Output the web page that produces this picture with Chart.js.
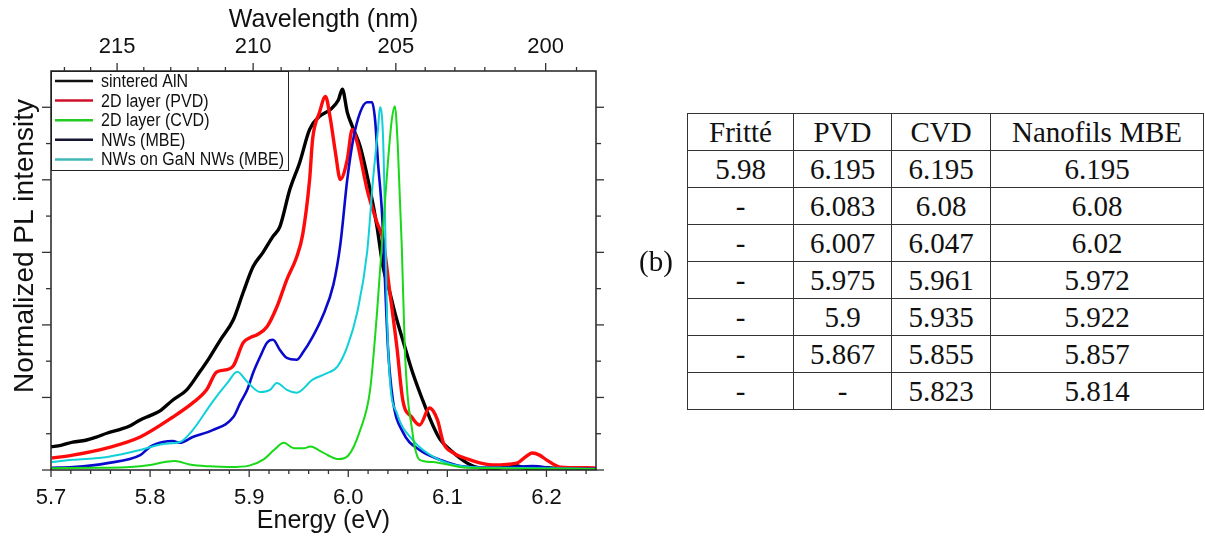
<!DOCTYPE html>
<html><head><meta charset="utf-8">
<script src="https://cdn.jsdelivr.net/npm/chart.js@4"></script>
<style>
html,body{margin:0;padding:0;background:#fff;width:1205px;height:537px;overflow:hidden;}
#wrap{position:absolute;left:0;top:0;width:640px;height:537px;}
#tbl{position:absolute;left:687px;top:113px;border-collapse:collapse;table-layout:fixed;width:516px;font-family:"Liberation Serif",serif;font-size:29px;color:#111;}
#tbl td{border:1px solid #333;text-align:center;height:36px;padding:0;line-height:36px;white-space:nowrap;}
#blabel{position:absolute;left:639px;top:245px;font-family:"Liberation Serif",serif;font-size:29px;color:#111;}
</style></head>
<body>
<div id="wrap"><canvas id="c" width="640" height="537"></canvas></div>
<div id="blabel">(b)</div>
<table id="tbl"><colgroup><col style="width:106px"><col style="width:98px"><col style="width:99px"><col style="width:213px"></colgroup><tbody id="tb"></tbody></table>
<script>
// ---- chart data (energy in eV, normalized PL intensity) ----
const sinteredE = [5.700,5.710,5.722,5.735,5.745,5.757,5.770,5.780,5.790,5.800,5.810,5.823,5.837,5.850,5.860,5.871,5.884,5.894,5.904,5.914,5.924,5.931,5.941,5.951,5.961,5.971,5.982,5.990,5.994,5.999,6.004,6.012,6.022,6.029,6.035,6.042,6.047,6.057,6.065,6.075,6.086,6.093,6.103,6.120,6.133,6.150,6.170,6.180,6.200,6.220,6.250];
const sinteredI = [0.064,0.068,0.077,0.082,0.090,0.102,0.112,0.122,0.138,0.150,0.163,0.193,0.221,0.270,0.310,0.359,0.414,0.490,0.561,0.600,0.644,0.671,0.773,0.848,0.939,0.975,0.994,1.020,1.050,0.986,0.948,0.892,0.773,0.671,0.561,0.489,0.434,0.340,0.268,0.193,0.119,0.083,0.055,0.019,0.006,0.005,0.012,0.004,0.006,0.003,0.003];

const pvdE = [5.701,5.722,5.757,5.790,5.823,5.843,5.857,5.867,5.876,5.884,5.894,5.901,5.908,5.918,5.928,5.938,5.948,5.954,5.961,5.964,5.971,5.977,5.982,5.987,5.992,5.999,6.004,6.009,6.019,6.029,6.035,6.042,6.049,6.055,6.064,6.072,6.082,6.090,6.096,6.106,6.123,6.146,6.170,6.186,6.193,6.200,6.214,6.241,6.250];
const pvdI = [0.033,0.041,0.061,0.091,0.146,0.185,0.221,0.270,0.276,0.287,0.351,0.365,0.373,0.395,0.450,0.525,0.588,0.649,0.801,0.912,0.986,1.030,0.967,0.876,0.801,0.856,0.939,0.903,0.773,0.682,0.635,0.489,0.340,0.193,0.146,0.124,0.171,0.138,0.075,0.047,0.028,0.014,0.019,0.047,0.041,0.028,0.008,0.006,0.005];

const cvdE = [5.700,5.750,5.780,5.800,5.815,5.825,5.840,5.860,5.880,5.900,5.915,5.925,5.935,5.945,5.955,5.962,5.970,5.980,5.990,6.000,6.012,6.022,6.029,6.035,6.040,6.044,6.047,6.050,6.054,6.057,6.060,6.064,6.067,6.072,6.085,6.120,6.250];
const cvdI = [0.005,0.006,0.008,0.014,0.022,0.025,0.015,0.010,0.008,0.012,0.030,0.055,0.075,0.060,0.060,0.065,0.055,0.040,0.030,0.040,0.110,0.220,0.434,0.663,0.848,0.967,1.003,0.892,0.616,0.340,0.200,0.119,0.064,0.028,0.022,0.006,0.003];

const mbeE = [5.701,5.722,5.757,5.790,5.800,5.813,5.823,5.830,5.843,5.863,5.884,5.891,5.898,5.904,5.911,5.918,5.924,5.931,5.938,5.948,5.954,5.964,5.974,5.985,5.992,5.999,6.005,6.012,6.019,6.024,6.027,6.030,6.034,6.037,6.040,6.045,6.055,6.072,6.093,6.113,6.153,6.186,6.214,6.250];
const mbeI = [0.006,0.008,0.019,0.041,0.064,0.077,0.080,0.075,0.091,0.110,0.146,0.185,0.221,0.268,0.312,0.351,0.359,0.331,0.309,0.304,0.323,0.367,0.423,0.511,0.622,0.801,0.912,0.986,1.014,1.014,0.967,0.848,0.710,0.525,0.340,0.193,0.105,0.055,0.028,0.011,0.006,0.011,0.003,0.003];

const ganE = [5.701,5.722,5.757,5.790,5.813,5.830,5.843,5.863,5.878,5.888,5.898,5.911,5.921,5.928,5.938,5.948,5.964,5.977,5.989,5.999,6.009,6.019,6.025,6.030,6.032,6.035,6.037,6.039,6.042,6.049,6.065,6.086,6.113,6.153,6.250];
const ganI = [0.022,0.028,0.036,0.055,0.072,0.077,0.110,0.188,0.240,0.271,0.243,0.215,0.221,0.240,0.221,0.213,0.249,0.265,0.285,0.340,0.434,0.600,0.801,0.939,1.000,0.925,0.710,0.434,0.249,0.157,0.083,0.036,0.011,0.006,0.003];

const seriesLabels = ['sintered AlN','2D layer (PVD)','2D layer (CVD)','NWs (MBE)','NWs on GaN NWs (MBE)'];

// ---- axis ticks ----
const energyTicks = [5.7,5.8,5.9,6.0,6.1,6.2];
const energyMinorTicks = [5.72,5.74,5.76,5.78,5.82,5.84,5.86,5.88,5.92,5.94,5.96,5.98,6.02,6.04,6.06,6.08,6.12,6.14,6.16,6.18,6.22,6.24];
const wavelengthTicks = [215,210,205,200];
const wavelengthMinorTicks = [217,216,214,213,212,211,209,208,207,206,204,203,202,201,199];
const intensityTicks = [0,0.2,0.4,0.6,0.8,1.0];
const intensityMinorTicks = [0.1,0.3,0.5,0.7,0.9];
const HC = 1239.84;

// ---- table data ----
const tableHeaders = ['Fritté','PVD','CVD','Nanofils MBE'];
const colFritte = ['5.98','-','-','-','-','-','-'];
const colPVD = ['6.195','6.083','6.007','5.975','5.9','5.867','-'];
const colCVD = ['6.195','6.08','6.047','5.961','5.935','5.855','5.823'];
const colMBE = ['6.195','6.08','6.02','5.972','5.922','5.857','5.814'];

(function buildTable(){
  const tb = document.getElementById('tb');
  const mk = (cells) => { const tr = document.createElement('tr'); cells.forEach(c => { const td = document.createElement('td'); td.textContent = c; tr.appendChild(td); }); tb.appendChild(tr); };
  mk(tableHeaders);
  for (let i = 0; i < colFritte.length; i++) mk([colFritte[i], colPVD[i], colCVD[i], colMBE[i]]);
})();

const pts = (E, I) => E.map((e, i) => ({x: e, y: I[i]}));
const FONT = '"Liberation Sans", Arial, sans-serif';

const framePlugin = {
  id: 'frameTicks',
  afterDraw(chart) {
    const ctx = chart.ctx, a = chart.chartArea;
    const xs = chart.scales.x, ys = chart.scales.y;
    ctx.save();
    // legend box
    const lx = a.left, ly = a.top, lw = 237, lh = 99;
    ctx.fillStyle = '#fff';
    ctx.fillRect(lx, ly, lw, lh);
    ctx.strokeStyle = '#222'; ctx.lineWidth = 1;
    ctx.strokeRect(lx + 0.5, ly + 0.5, lw, lh);
    const legendColors = ['#111111','#d0102a','#22cc22','#151530','#40b8b8'];
    ctx.textBaseline = 'middle'; ctx.textAlign = 'left';
    seriesLabels.forEach((t, i) => {
      const yy = ly + 10 + i * 19.6;
      ctx.strokeStyle = legendColors[i]; ctx.lineWidth = 2.5;
      ctx.beginPath(); ctx.moveTo(lx + 4, yy); ctx.lineTo(lx + 42, yy); ctx.stroke();
      ctx.save();
      ctx.translate(lx + 50, yy + 1); ctx.scale(1, 1.15);
      ctx.font = '16px ' + FONT; ctx.fillStyle = '#111'; ctx.fillText(t, 0, 0);
      ctx.restore();
    });
    // frame
    ctx.strokeStyle = '#222'; ctx.lineWidth = 1.5;
    ctx.strokeRect(a.left, a.top, a.right - a.left, a.bottom - a.top);
    ctx.lineWidth = 1.3; ctx.strokeStyle = '#333';
    const vt = (px, y0, len) => { ctx.beginPath(); ctx.moveTo(px, y0); ctx.lineTo(px, y0 + len); ctx.stroke(); };
    const ht = (py, x0, len) => { ctx.beginPath(); ctx.moveTo(x0, py); ctx.lineTo(x0 + len, py); ctx.stroke(); };
    energyTicks.forEach(v => vt(xs.getPixelForValue(v), a.bottom, 7));
    energyMinorTicks.forEach(v => vt(xs.getPixelForValue(v), a.bottom, 4));
    wavelengthTicks.forEach(w => vt(xs.getPixelForValue(HC / w), a.top, -8));
    wavelengthMinorTicks.forEach(w => vt(xs.getPixelForValue(HC / w), a.top, -4));
    intensityTicks.forEach(v => { const p = ys.getPixelForValue(v); ht(p, a.left, -9); ht(p, a.right, 8); });
    intensityMinorTicks.forEach(v => { const p = ys.getPixelForValue(v); ht(p, a.left, -5); ht(p, a.right, 5); });
    // y title
    ctx.fillStyle = '#111'; ctx.font = '28px ' + FONT; ctx.textAlign = 'center'; ctx.textBaseline = 'middle';
    ctx.translate(25, 246); ctx.rotate(-Math.PI / 2); ctx.fillText('Normalized PL intensity', 0, 0);
    ctx.restore();
  }
};

new Chart(document.getElementById('c'), {
  type: 'scatter',
  data: {
    datasets: [
      {label: seriesLabels[0], data: pts(sinteredE, sinteredI), borderColor: '#000000', borderWidth: 3.4, order: 5},
      {label: seriesLabels[1], data: pts(pvdE, pvdI), borderColor: '#ff0a0a', borderWidth: 3.4, order: 4},
      {label: seriesLabels[2], data: pts(cvdE, cvdI), borderColor: '#18d818', borderWidth: 2, order: 1},
      {label: seriesLabels[3], data: pts(mbeE, mbeI), borderColor: '#0a0acc', borderWidth: 2.6, order: 3},
      {label: seriesLabels[4], data: pts(ganE, ganI), borderColor: '#10d0d8', borderWidth: 2, order: 2}
    ].map(d => Object.assign(d, {showLine: true, pointRadius: 0, fill: false, cubicInterpolationMode: 'monotone'}))
  },
  options: {
    responsive: false, animation: false, devicePixelRatio: 1,
    layout: {padding: 0},
    plugins: {legend: {display: false}, tooltip: {enabled: false}},
    scales: {
      x: {
        type: 'linear', position: 'bottom', min: 5.7, max: 6.25,
        afterBuildTicks: s => { s.ticks = energyTicks.map(v => ({value: v})); },
        afterFit: s => { s.height = 67; },
        ticks: {autoSkip: false, maxRotation: 0, padding: 7, color: '#111', font: {family: FONT, size: 22}, callback: v => Number(v).toFixed(1)},
        grid: {display: false}, border: {display: false},
        title: {display: true, text: 'Energy (eV)', color: '#111', font: {family: FONT, size: 25}, padding: {top: 0, bottom: 1}}
      },
      x2: {
        type: 'linear', position: 'top', min: 5.7, max: 6.25,
        afterBuildTicks: s => { s.ticks = wavelengthTicks.map(w => ({value: HC / w})); },
        afterFit: s => { s.height = 71; },
        ticks: {autoSkip: false, maxRotation: 0, padding: 3, color: '#111', font: {family: FONT, size: 22}, callback: v => String(Math.round(HC / v))},
        grid: {display: false}, border: {display: false},
        title: {display: true, text: 'Wavelength (nm)', color: '#111', font: {family: FONT, size: 25}, padding: {top: 5, bottom: 0}}
      },
      y: {
        type: 'linear', position: 'left', min: 0, max: 1.1,
        afterFit: s => { s.width = 51; },
        ticks: {display: false}, grid: {display: false}, border: {display: false}
      },
      y2: {
        type: 'linear', position: 'right', min: 0, max: 1.1,
        afterFit: s => { s.width = 44; },
        ticks: {display: false}, grid: {display: false}, border: {display: false}
      }
    }
  },
  plugins: [framePlugin]
});
</script>
</body></html>
